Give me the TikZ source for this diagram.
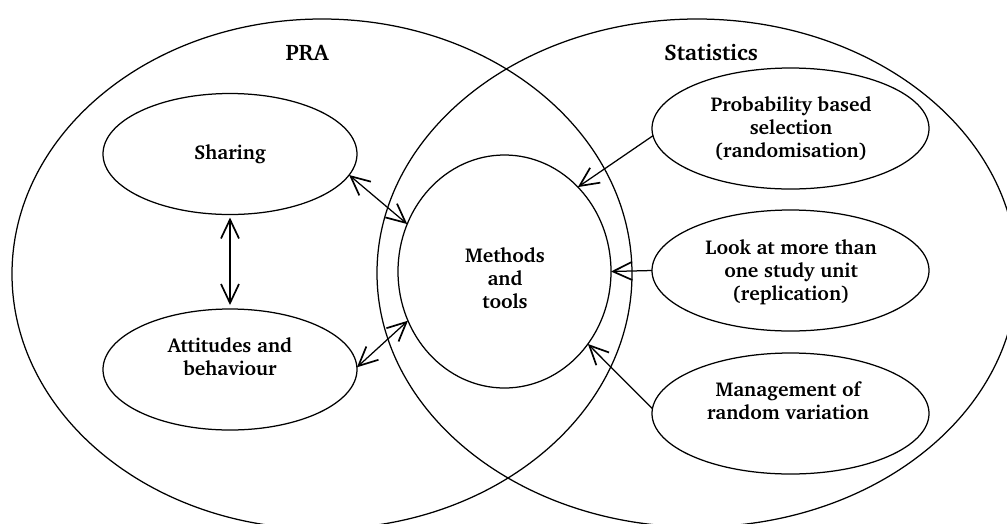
\documentclass[tikz,border=0pt]{standalone}
\usepackage[T1]{fontenc}
\usepackage{charter}
\usetikzlibrary{shapes.geometric,arrows.meta}
\begin{document}
\begin{tikzpicture}[x=1pt,y=-1pt,
  line width=1.25pt,
  oval/.style={draw,ellipse,inner sep=0pt,outer sep=0pt},
  txt/.style={align=center,font=\fontsize{20}{23}\selectfont\bfseries,inner sep=0pt},
  head/.style={font=\fontsize{22.5}{25}\selectfont\bfseries,inner sep=0pt},
  >={Straight Barb[length=19pt,width=18pt,line width=1.7pt]}
]
\useasboundingbox (0,0) rectangle (1007,523);
% outer sets
\node[oval, minimum width=620pt, minimum height=510pt] (pra) at (322,274) {};
\node[oval, minimum width=640pt, minimum height=508pt] (stat) at (697,273) {};
\node[head] (praT) at (307,53) {PRA};
\node[head] (statT) at (711,53) {Statistics};
% inner ellipses
\node[oval, minimum width=254pt, minimum height=121pt] (share) at (230,154) {};
\node[oval, minimum width=254pt, minimum height=121pt] (att) at (230,369.5) {};
\node[oval, minimum width=213pt, minimum height=233pt] (meth) at (504.5,271.5) {};
\node[oval, minimum width=277pt, minimum height=121pt] (prob) at (790.5,128.5) {};
\node[oval, minimum width=277pt, minimum height=121pt] (look) at (790.5,270.5) {};
\node[oval, minimum width=277pt, minimum height=121pt] (man) at (790.5,413.5) {};
% texts
\node[txt] (shareT) at (230,154) {Sharing};
\node[txt] (attT) at (230,357) {Attitudes and\\behaviour};
\node[txt] (methT) at (505,278) {Methods\\and\\tools};
\node[txt] (probT) at (791,128) {Probability based\\selection\\(randomisation)};
\node[txt] (lookT) at (791,272) {Look at more than\\one study unit\\(replication)};
\node[txt] (manT) at (788,401) {Management of\\random variation};
% connectors
\draw[<->, shorten <=3pt, shorten >=4pt] (share.south) -- (att.north);
\draw[<->] (share.-10.7) -- (meth.154.1);
\draw[<->] (att.1) -- (meth.207.8);
\draw[->] (prob.183) -- (meth.49.9);
\draw[->] (look.west) -- (meth.east);
\draw[->] (man.178) -- (meth.-41.8);
\end{tikzpicture}
\end{document}
